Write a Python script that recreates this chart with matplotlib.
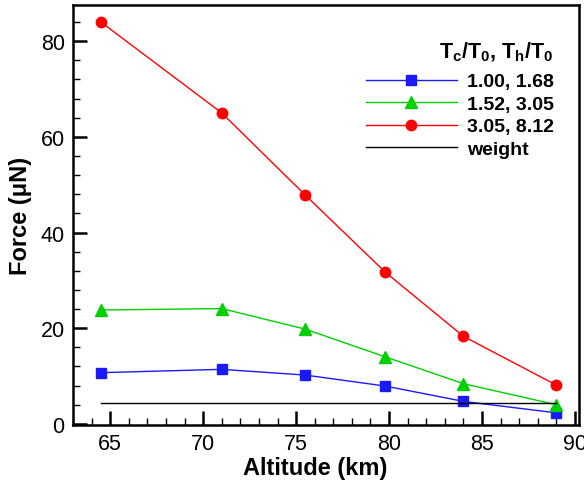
import numpy as np
import matplotlib
matplotlib.use('Agg')
import matplotlib.pyplot as plt
from matplotlib.ticker import MultipleLocator

plt.rcParams['font.family'] = ['Liberation Sans', 'DejaVu Sans']
plt.rcParams['mathtext.fontset'] = 'custom'
plt.rcParams['mathtext.rm'] = 'Liberation Sans:bold'
plt.rcParams['mathtext.bf'] = 'Liberation Sans:bold'
plt.rcParams['mathtext.it'] = 'Liberation Sans:bold'

# Daten
altitude = [64.5, 71.0, 75.5, 79.8, 84.0, 89.0]
force_1 = [10.7, 11.4, 10.2, 7.9, 4.7, 2.3]
force_2 = [23.8, 24.1, 19.8, 14.0, 8.4, 4.0]
force_3 = [84.0, 65.0, 47.8, 31.7, 18.3, 8.1]
weight = [4.3, 4.3, 4.3, 4.3, 4.3, 4.3]
labels = ['1.00, 1.68', '1.52, 3.05', '3.05, 8.12', 'weight']

fig = plt.figure(figsize=(5.84, 4.85), dpi=100)
ax = fig.add_axes([0.125, 0.122, 0.866, 0.866])

ax.plot(altitude, force_1, '-s', color='#1a1aff', lw=1.0, ms=6.5, label=labels[0])
ax.plot(altitude, force_2, '-^', color='#00d000', lw=1.0, ms=8.5, label=labels[1])
ax.plot(altitude, force_3, '-o', color='#ff0000', lw=1.0, ms=7.5, label=labels[2])
ax.plot(altitude, weight, '-', color='black', lw=1.0, label=labels[3])

ax.set_xlim(63.0, 90.2)
ax.set_ylim(-0.2, 87.6)
ax.xaxis.set_major_locator(MultipleLocator(5))
ax.xaxis.set_minor_locator(MultipleLocator(1))
ax.yaxis.set_major_locator(MultipleLocator(20))
ax.yaxis.set_minor_locator(MultipleLocator(4))
ax.tick_params(which='major', direction='in', length=10, width=1.8, labelsize=15.5, pad=6)
ax.tick_params(which='minor', direction='in', length=5, width=1.0)
for s in ax.spines.values():
    s.set_linewidth(1.8)

ax.set_xlabel('Altitude (km)', fontsize=17, fontweight='bold', labelpad=1)
ax.set_ylabel('Force (\u03bcN)', fontsize=17, fontweight='bold', labelpad=6)
ax.xaxis.set_label_coords(0.478, -0.075)

leg = ax.legend(title='T$_c$/T$_0$, T$_h$/T$_0$', loc='upper right',
                bbox_to_anchor=(0.985, 0.958), frameon=False, handlelength=4.7,
                prop={'weight': 'bold', 'size': 14},
                title_fontproperties={'weight': 'bold', 'size': 15.5},
                labelspacing=0.25, handletextpad=0.5, markerfirst=True)
leg._legend_box.align = 'right'
leg._legend_box.sep = 7

plt.savefig('out.png', dpi=100)
